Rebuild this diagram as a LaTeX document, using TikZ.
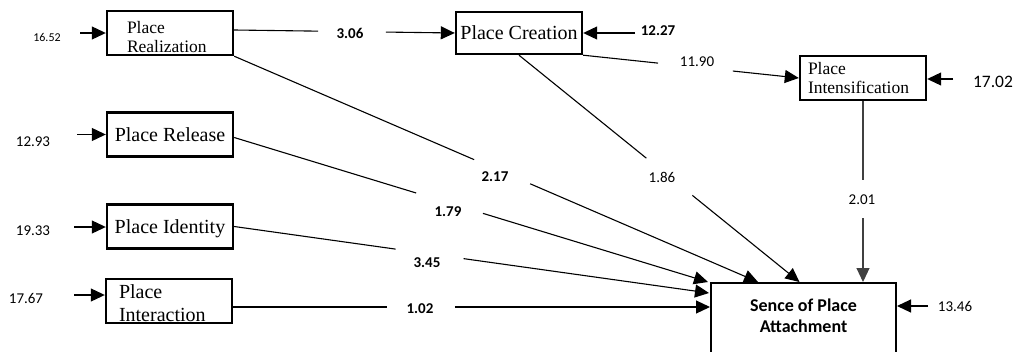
\documentclass[tikz,border=0pt]{standalone}
\usepackage{fontspec}
\setmainfont{Liberation Serif}
\newfontfamily\lblfont{Carlito}
\usetikzlibrary{arrows.meta,calc}
\begin{document}
\begin{tikzpicture}[x=1pt,y=-1pt,
  box/.style={draw, line width=2.4pt, minimum width=126pt, minimum height=44pt, inner sep=0pt, font=\fontsize{20}{22}\selectfont},
  smallbox/.style={box, align=left, font=\fontsize{17.5}{19.5}\selectfont},
  conn/.style={line width=1.1pt},
  arr/.style={line width=1.1pt, -{Triangle[length=14pt,width=13pt]}},
  lbl/.style={font=\lblfont\fontsize{15}{18}\selectfont, inner sep=0pt},
  blbl/.style={font=\lblfont\bfseries\fontsize{15}{18}\selectfont, inner sep=0pt},
]
\useasboundingbox (0,0) rectangle (1016,351);

% boxes
\node[smallbox, text width=86pt, inner xsep=20pt, text height=20pt] (R) at (170,33) {Place\\Realization};
\node[box, minimum height=42pt] (C) at (519,33) {Place Creation};
\node[smallbox, text width=110pt, inner xsep=8pt] (I) at (863,78) {Place\\Intensification};
\node[box] (Rel) at (170,134.5) {Place Release};
\node[box, text depth=0pt] (Id) at (170,226.5) {Place Identity};
\node[box, align=left, text width=100pt, inner xsep=13pt, text height=17.7pt, font=\fontsize{20}{22.5}\selectfont] (Int) at (169,301) {Place\\Interaction};
\node[draw, line width=2.4pt, minimum width=184.6pt, anchor=north, align=center, inner ysep=16pt, text depth=40pt, font=\lblfont\bfseries\fontsize{18}{21}\selectfont] (S) at (803.5,282) {Sence of Place\\Attachment};

% Realization -> Creation
\coordinate (rA) at ([yshift=3pt]R.east);
\draw[conn] (rA) -- ($(rA)!0.38!(C.west)$);
\draw[arr] ($(rA)!0.688!(C.west)$) -- (C.west);
\node[blbl] (l306) at (350,33) {3.06};

% Creation -> Intensification
\draw[conn] (C.south east) -- ($(C.south east)!0.347!(I.west)$);
\draw[arr] ($(C.south east)!0.694!(I.west)$) -- (I.west);
\node[lbl] (l1190) at (697,62) {11.90};

% Creation -> SPA
\coordinate (sC) at ([xshift=-4pt]S.north);
\draw[conn] (C.south) -- ($(C.south)!0.454!(sC)$);
\draw[arr] ($(C.south)!0.618!(sC)$) -- (sC);
\node[lbl] (l186) at (662,177) {1.86};

% Intensification -> SPA
\coordinate (sI) at (I.south |- S.north);
\draw[conn, black!75] (I.south) -- ($(I.south)!0.436!(sI)$);
\draw[arr, black!75] ($(I.south)!0.646!(sI)$) -- (sI);
\node[lbl] (l201) at (862,200) {2.01};

% Realization -> SPA
\coordinate (sR) at ([xshift=48pt]S.north west);
\draw[conn] (R.south east) -- ($(R.south east)!0.458!(sR)$);
\draw[arr] ($(R.south east)!0.565!(sR)$) -- (sR);
\node[blbl] (l217) at (495,177) {2.17};

% Release -> SPA
\coordinate (relA) at ([yshift=-3pt]Rel.east);
\coordinate (sRel) at ([xshift=-2pt]S.north west);
\draw[conn] (relA) -- ($(relA)!0.384!(sRel)$);
\draw[arr] ($(relA)!0.525!(sRel)$) -- (sRel);
\node[blbl] (l179) at (448,212) {1.79};

% Identity -> SPA
\coordinate (sId) at ([xshift=-1pt,yshift=-11pt]S.north west);
\draw[conn] (Id.east) -- ($(Id.east)!0.34!(sId)$);
\draw[arr] ($(Id.east)!0.483!(sId)$) -- (sId);
\node[blbl] (l345) at (427,263) {3.45};

% Interaction -> SPA
\coordinate (intA) at ([yshift=-6pt]Int.east);
\coordinate (sInt) at (intA -| S.west);
\draw[conn] (intA) -- ($(intA)!0.323!(sInt)$);
\draw[arr] ($(intA)!0.465!(sInt)$) -- (sInt);
\node[blbl] (l102) at (420,309) {1.02};

% error terms
\node[lbl, font=\lblfont\fontsize{12}{14}\selectfont] (e1652) at (47,37) {16.52};
\coordinate (in1) at (80,33);
\draw[arr] (in1) -- (in1 -| R.west);

\node[blbl] (e1227) at (658,31) {12.27};
\coordinate (in2) at (635,33);
\draw[arr] (in2) -- (in2 -| C.east);

\node[lbl, font=\lblfont\fontsize{17.5}{20}\selectfont] (e1702) at (993,82) {17.02};
\coordinate (in3) at (953,79);
\draw[arr] (in3) -- (in3 -| I.east);

\node[lbl] (e1293) at (33,142) {12.93};
\coordinate (in4) at (77,134.5);
\draw[arr] (in4) -- (in4 -| Rel.west);

\node[lbl] (e1933) at (33,231) {19.33};
\coordinate (in5) at (74,227);
\draw[arr] (in5) -- (in5 -| Id.west);

\node[lbl] (e1767) at (26,298) {17.67};
\coordinate (in6) at (74,295);
\draw[arr] (in6) -- (in6 -| Int.west);

\node[lbl] (e1346) at (955,306) {13.46};
\coordinate (in7) at (928,306);
\draw[arr] (in7) -- (in7 -| S.east);
\end{tikzpicture}
\end{document}
